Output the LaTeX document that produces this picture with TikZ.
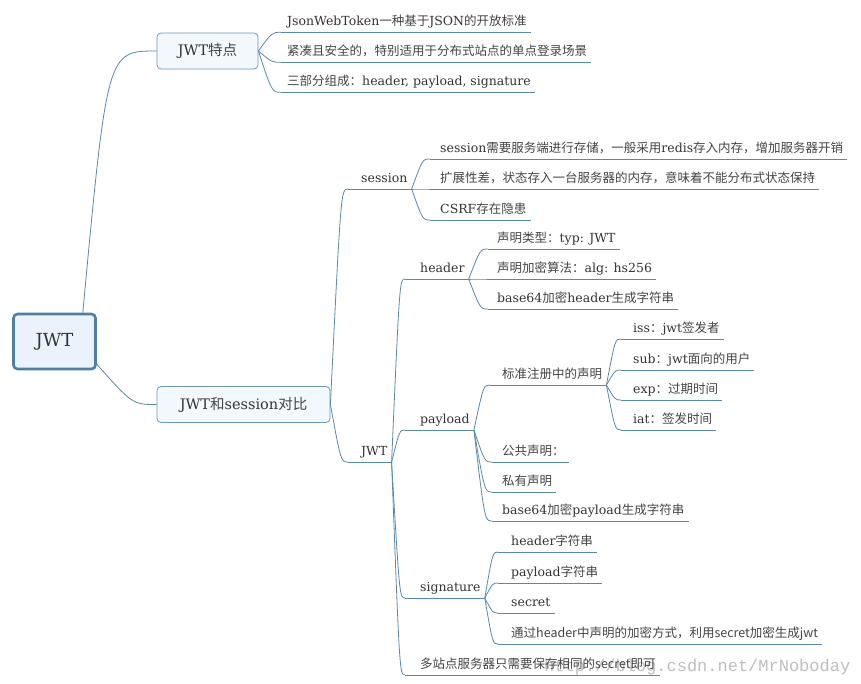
\documentclass[tikz,border=0pt]{standalone}
\usepackage{fontspec}
\setmainfont{DejaVu Serif}
\newfontfamily\cjk{Noto Sans CJK SC}
\newfontfamily\wmfont{Liberation Mono}
\usetikzlibrary{calc}
\definecolor{linec}{HTML}{5B88A8}
\definecolor{txt}{HTML}{333333}
\definecolor{zhtxt}{HTML}{444444}
\definecolor{rootfill}{HTML}{EAF3FB}
\definecolor{rootdraw}{HTML}{4F80A3}
\definecolor{boxfill}{HTML}{F3F8FC}
\definecolor{boxdraw}{HTML}{6F98B8}
\newcommand\zh[1]{{\cjk\color{zhtxt}#1}}
\newcommand\mmlink[3][0.6]{\draw[conn] let \p1=(#2), \p2=(#3) in (\p1) .. controls ({\x1+#1*(\x2-\x1)},\y2) .. (\p2);}
\tikzset{
  conn/.style={draw=linec, line width=0.8pt},
  rootbox/.style={draw=rootdraw, fill=rootfill, line width=2.6pt, rounded corners=4pt,
    minimum width=82pt, minimum height=55pt, font=\fontsize{18}{20}\selectfont, text=txt},
  mainbox/.style={draw=boxdraw, fill=boxfill, line width=0.8pt, rounded corners=4pt,
    minimum height=36pt, font=\fontsize{14.5}{17}\selectfont, text=txt},
  topic/.style={anchor=south west, inner xsep=0pt, inner ysep=2pt, text height=9.5pt,
    text depth=4.5pt, font=\fontsize{12.5}{15}\selectfont, text=txt,
    execute at begin node={\hspace*{#1}}, execute at end node={\hspace*{4pt}}},
  topic/.default=9pt,
  wm/.style={anchor=base west, inner sep=0pt, font=\wmfont\fontsize{17}{17}\selectfont, text=black!25}
}
\begin{document}
\begin{tikzpicture}[x=1pt,y=-1pt]
\path[use as bounding box, fill=white] (0,0) rectangle (861,683);
% watermark
\node[wm] (wm) at (544,671) {http://blog.csdn.net/MrNoboday};
% main boxes
\node[rootbox] (root) at (54.5,341.5) {JWT};
\node[mainbox, minimum width=101pt] (A) at (207.5,51) {JWT\zh{特点}};
\node[mainbox, minimum width=173pt] (B) at (243.5,404.5) {JWT\zh{和}session\zh{对比}};
\coordinate (rootT) at ($(root.north east)+(-14,0)$);
\coordinate (rootR) at ($(root.south east)+(0,-6)$);
% JWT features
\node[topic=6pt] (a1) at (281,32.3) {JsonWebToken\zh{一种基于}JSON\zh{的开放标准}};
\node[topic=6pt] (a2) at (281,62.3) {\zh{紧凑且安全的，特别适用于分布式站点的单点登录场景}};
\node[topic=6pt] (a3) at (281,92.3) {\zh{三部分组成：}header, payload, signature};
% level 2
\node[topic=13pt] (ses) at (348,189) {session};
\node[topic=13pt] (jwt) at (348,462) {JWT};
% session items
\node[topic=10pt] (s1) at (430,159) {session\zh{需要服务端进行存储，一般采用}redis\zh{存入内存，增加服务器开销}};
\node[topic=10pt] (s2) at (430,189) {\zh{扩展性差，状态存入一台服务器的内存，意味着不能分布式状态保持}};
\node[topic=10pt] (s3) at (430,220) {CSRF\zh{存在隐患}};
% JWT items
\node[topic=15pt] (hdr) at (405,279) {header};
\node[topic=15pt] (pld) at (405,430) {payload};
\node[topic=15pt] (sig) at (405,598) {signature};
\node[topic=15pt] (mst) at (405,675) {\zh{多站点服务器只需要保存相同的secret即可}};
% header items
\node[topic=9pt] (h1) at (488,249) {\zh{声明类型：}typ: JWT};
\node[topic=9pt] (h2) at (488,279) {\zh{声明加密算法：}alg: hs256};
\node[topic=9pt] (h3) at (488,309) {base64\zh{加密}header\zh{生成字符串}};
% payload items
\node[topic=12pt] (p0) at (490,385) {\zh{标准注册中的声明}};
\node[topic=10pt] (p1) at (492,462) {\zh{公共声明：}};
\node[topic=10pt] (p2) at (492,492) {\zh{私有声明}};
\node[topic=10pt] (p3) at (492,521) {base64\zh{加密}payload\zh{生成字符串}};
\node[topic=12pt] (q1) at (621,339) {iss\zh{：}jwt\zh{签发者}};
\node[topic=12pt] (q2) at (621,370) {sub\zh{：}jwt\zh{面向的用户}};
\node[topic=12pt] (q3) at (621,400) {exp\zh{：过期时间}};
\node[topic=12pt] (q4) at (621,430) {iat\zh{：签发时间}};
% signature items
\node[topic=13pt] (g1) at (498,552) {header\zh{字符串}};
\node[topic=13pt] (g2) at (498,583) {payload\zh{字符串}};
\node[topic=13pt] (g3) at (498,613) {secret};
\node[topic=13pt] (g4) at (498,644) {\zh{通过header中声明的加密方式，利用secret加密生成jwt}};
% underlines
\foreach \nn in {a1,a2,a3,ses,jwt,s1,s2,s3,hdr,pld,sig,mst,h1,h2,h3,p0,p1,p2,p3,q1,q2,q3,q4,g1,g2,g3,g4}
  {\draw[conn] (\nn.south west) -- (\nn.south east);}
% connectors
\mmlink[0.33]{rootT}{A.west}
\mmlink{rootR}{B.west}
\foreach \nn in {a1,a2,a3} {\mmlink{A.east}{\nn.south west}}
\foreach \nn in {ses,jwt} {\mmlink{B.east}{\nn.south west}}
\foreach \nn in {s1,s2,s3} {\mmlink{ses.south east}{\nn.south west}}
\foreach \nn in {hdr,pld,sig,mst} {\mmlink{jwt.south east}{\nn.south west}}
\foreach \nn in {h1,h2,h3} {\mmlink{hdr.south east}{\nn.south west}}
\foreach \nn in {p0,p1,p2,p3} {\mmlink{pld.south east}{\nn.south west}}
\foreach \nn in {q1,q2,q3,q4} {\mmlink{p0.south east}{\nn.south west}}
\foreach \nn in {g1,g2,g3,g4} {\mmlink{sig.south east}{\nn.south west}}
\end{tikzpicture}
\end{document}
